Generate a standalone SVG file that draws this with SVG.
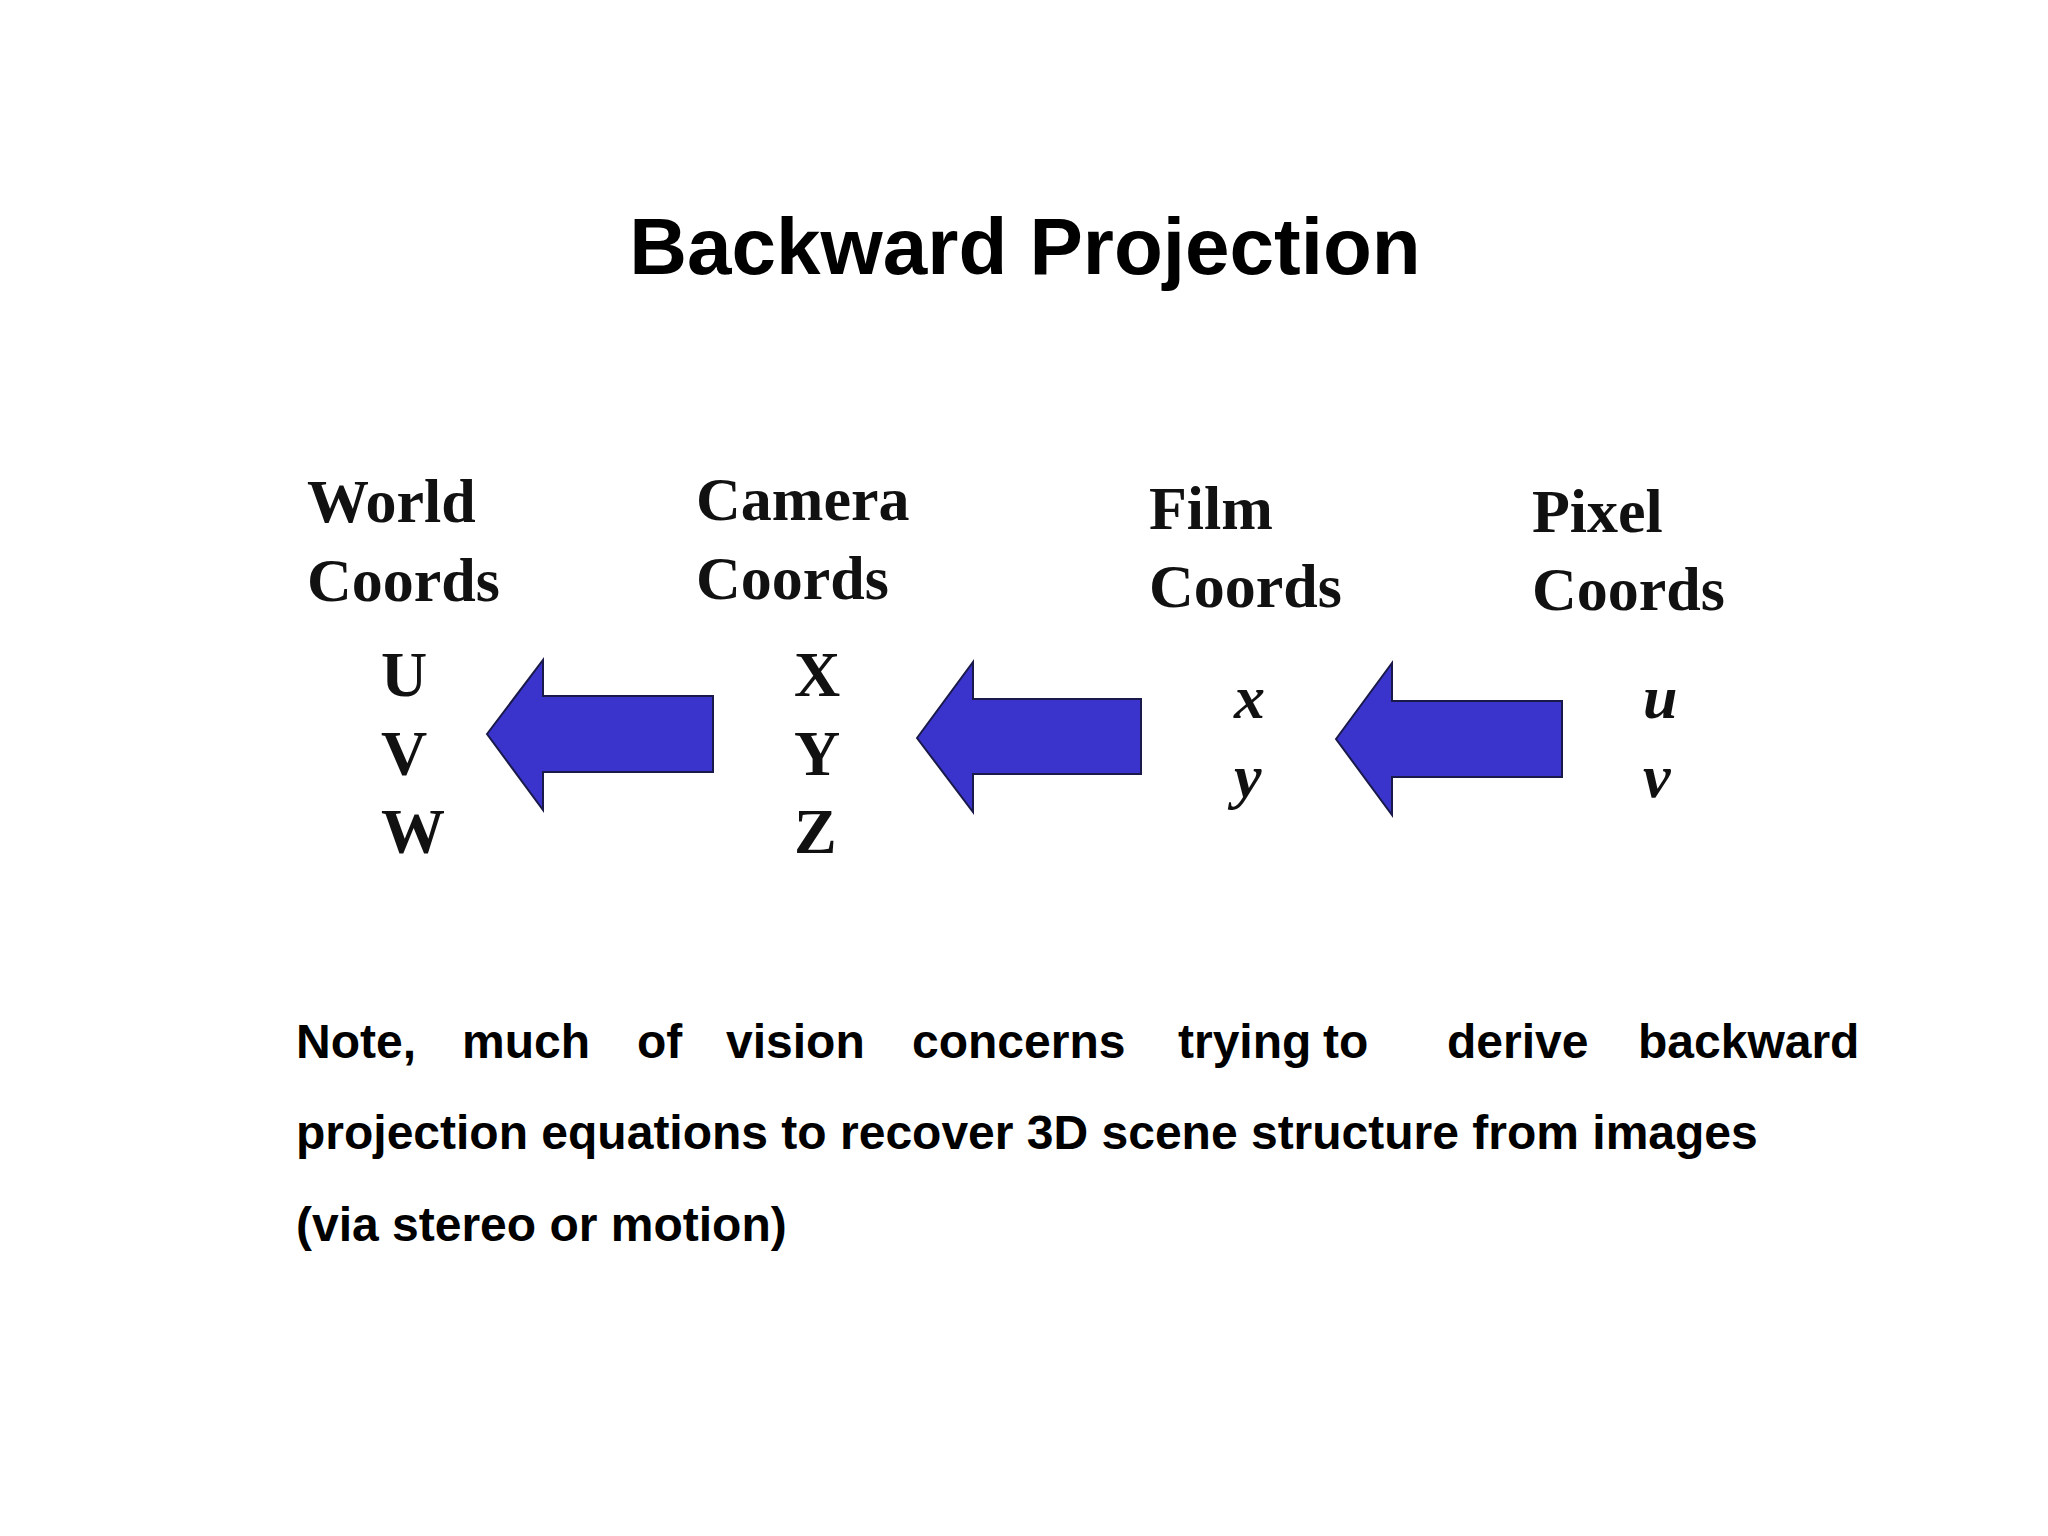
<svg xmlns="http://www.w3.org/2000/svg" width="2048" height="1536" viewBox="0 0 2048 1536">
<style>
.h{font-family:"Liberation Serif",serif;font-weight:bold;font-size:62px;fill:#111}
.v{font-family:"Liberation Serif",serif;font-weight:bold;font-size:64px;fill:#111}
.i{font-family:"Liberation Serif",serif;font-weight:bold;font-style:italic;font-size:62px;fill:#111}
.n{font-family:"Liberation Sans",sans-serif;font-weight:bold;font-size:48px;fill:#000}
.a{fill:#3a33cc;stroke:#1a1a4a;stroke-width:2}
</style>
<rect width="2048" height="1536" fill="#fff"/>
<text x="1025" y="274" text-anchor="middle" font-family="Liberation Sans,sans-serif" font-weight="bold" font-size="80">Backward Projection</text>
<g id="world"><text class="h" x="307" y="522">World</text><text class="h" x="307" y="601">Coords</text>
<text class="v" x="381" y="696">U</text><text class="v" x="381" y="775">V</text><text class="v" x="381" y="853">W</text></g>
<g id="camera"><text class="h" x="696" y="520">Camera</text><text class="h" x="696" y="599">Coords</text>
<text class="v" x="794" y="696">X</text><text class="v" x="794" y="775">Y</text><text class="v" x="794" y="853">Z</text></g>
<g id="film"><text class="h" x="1149" y="529">Film</text><text class="h" x="1149" y="607">Coords</text>
<text class="i" x="1234" y="718">x</text><text class="i" x="1234" y="797">y</text></g>
<g id="pixel"><text class="h" x="1532" y="532">Pixel</text><text class="h" x="1532" y="610">Coords</text>
<text class="i" x="1643" y="718">u</text><text class="i" x="1643" y="797">v</text></g>
<g id="connectors">
<polygon class="a" points="487,734 543,660 543,696 713,696 713,772 543,772 543,810"/>
<polygon class="a" points="917,738 973,662 973,699 1141,699 1141,774 973,774 973,812"/>
<polygon class="a" points="1336,739 1392,663 1392,701 1562,701 1562,777 1392,777 1392,815"/>
</g>
<g id="note">
<text class="n" y="1058"><tspan x="296">Note,</tspan><tspan x="462">much</tspan><tspan x="637">of</tspan><tspan x="726">vision</tspan><tspan x="912">concerns</tspan><tspan x="1178">trying</tspan><tspan x="1323">to</tspan><tspan x="1447">derive</tspan><tspan x="1638">backward</tspan></text>
<text class="n" x="296" y="1149">projection equations to recover 3D scene structure from images</text>
<text class="n" x="296" y="1241">(via stereo or motion)</text>
</g>
</svg>
